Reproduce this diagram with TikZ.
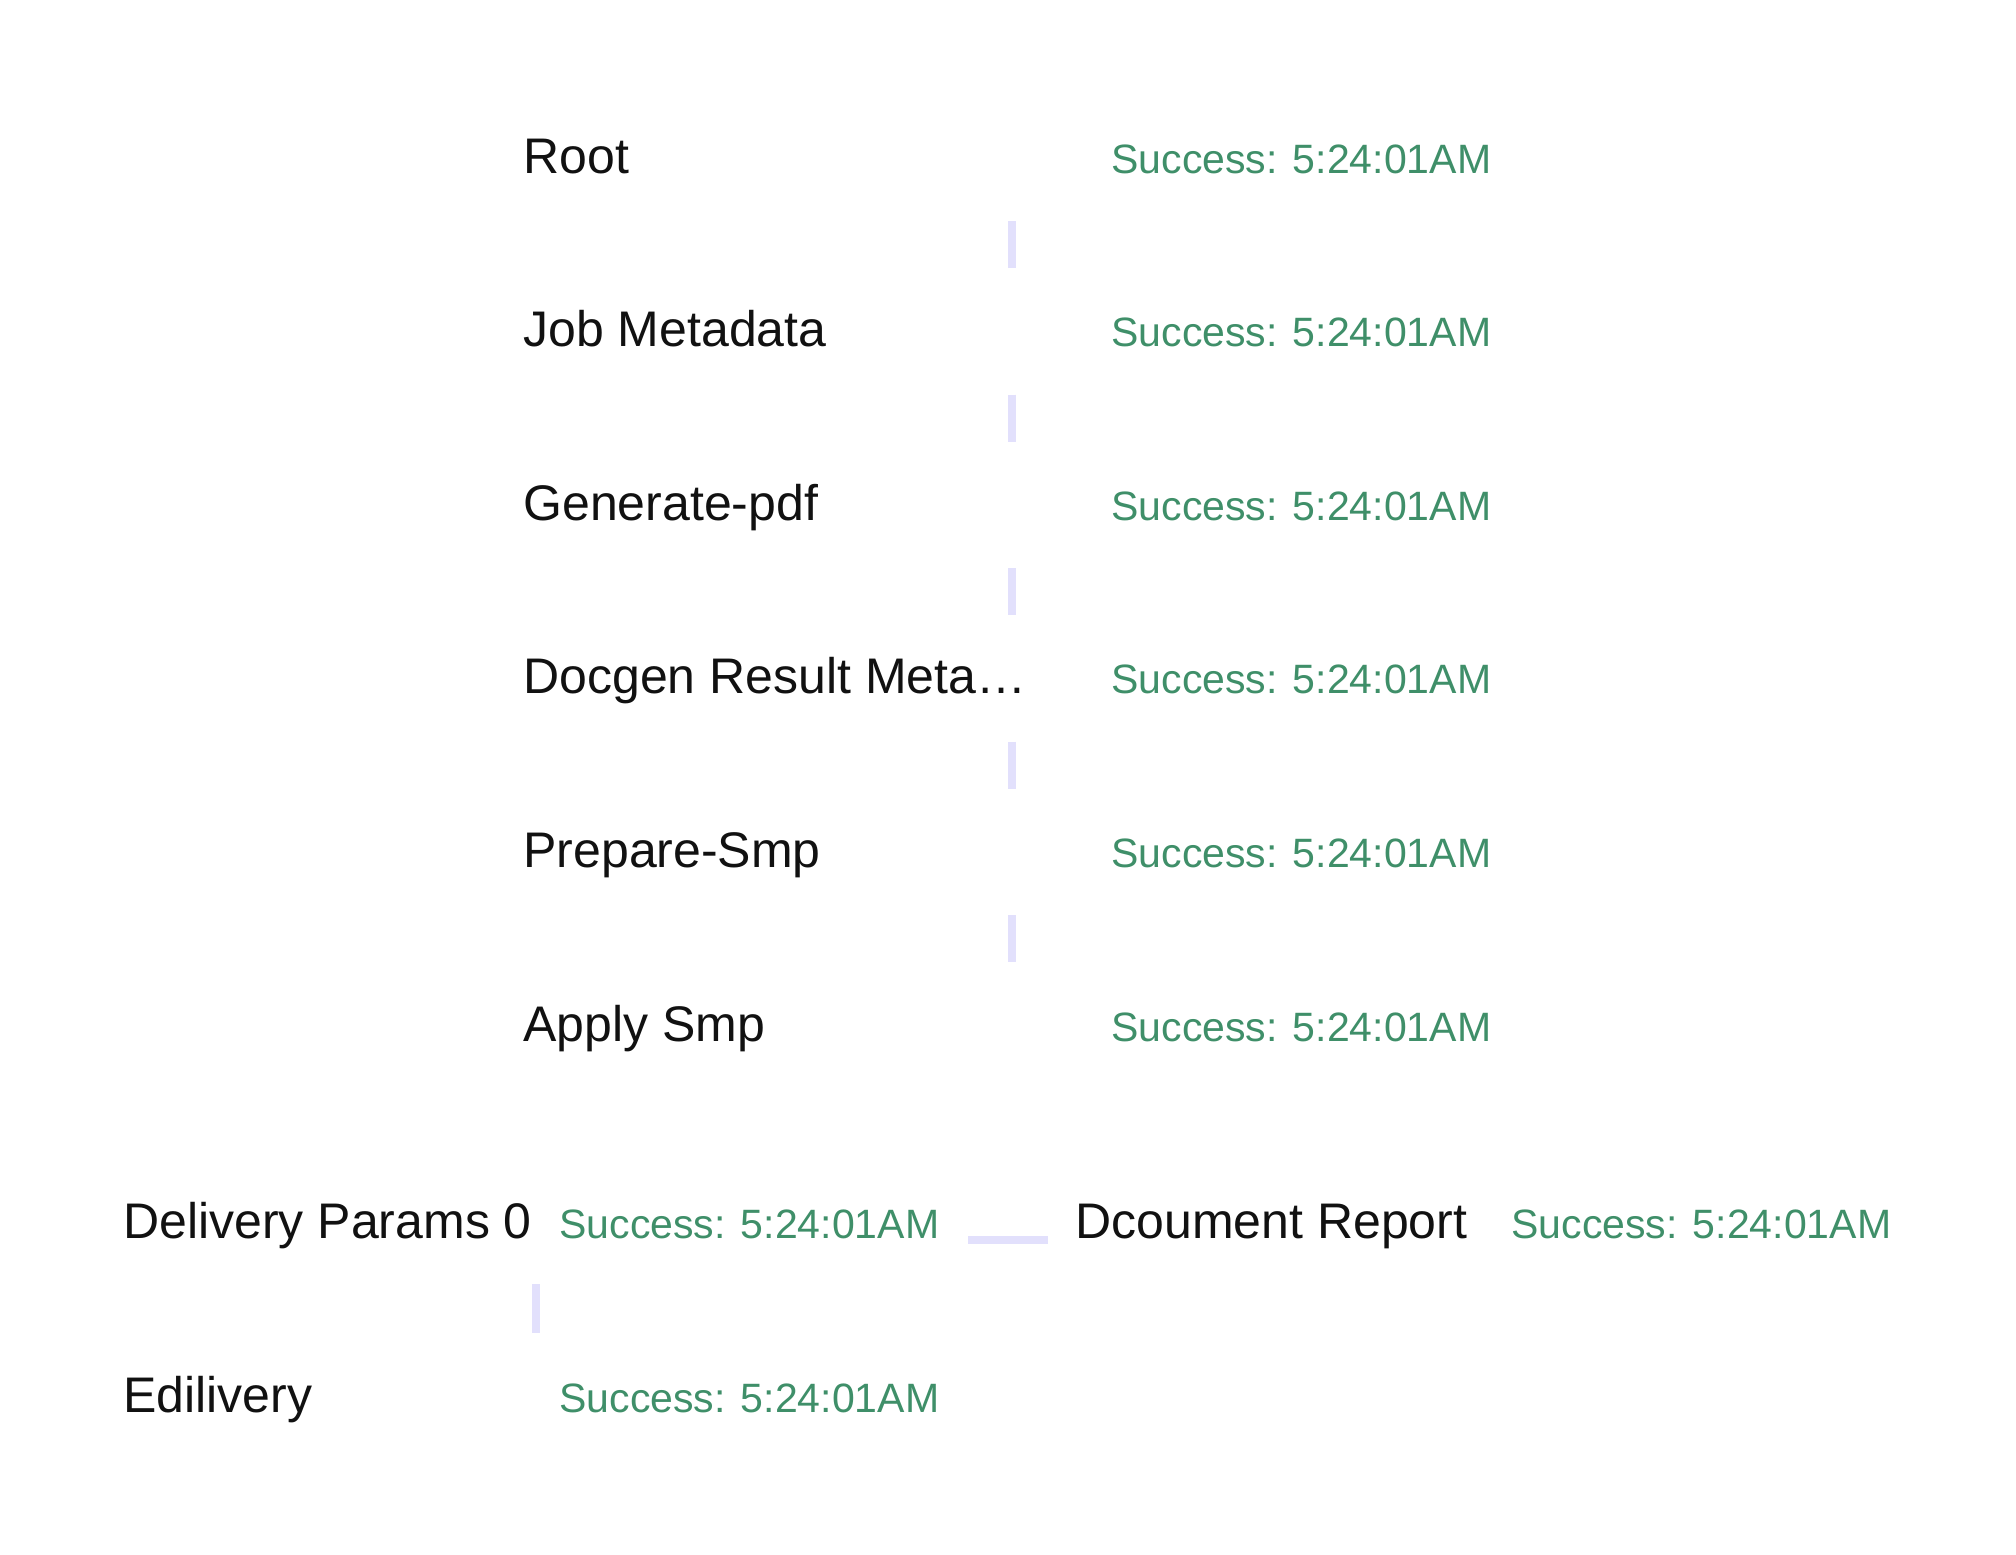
\documentclass[tikz,border=0pt]{standalone}
\usepackage{fontspec}
\setmainfont{Liberation Sans}
\definecolor{okgreen}{HTML}{3F8F69}
\definecolor{barcol}{HTML}{E2E0FC}
\definecolor{ink}{HTML}{111111}
\begin{document}
\begin{tikzpicture}[x=0.5pt,y=-0.5pt,
  task/.style={anchor=base west,inner sep=0pt,text=ink,font=\fontsize{25}{30}\selectfont},
  stat/.style={anchor=base west,inner sep=0pt,text=okgreen,font=\fontsize{20.5}{25}\selectfont},
  conn/.style={draw=barcol,line width=4pt,line cap=butt}]
\fill[white] (0,0) rectangle (2016,1554);
\useasboundingbox (0,0) rectangle (2016,1554);
% main column
\node[task] (root) at (523,173) {Root};
\node[task] (job) at (523,346.6) {Job Metadata};
\node[task] (gen) at (523,520.2) {Generate-pdf};
\node[task] (doc) at (523,693.8) {Docgen Result Meta\ldots};
\node[task] (prep) at (523,867.4) {Prepare-Smp};
\node[task] (apply) at (523,1041) {Apply Smp};
\node[stat] (root-s) at (1111,173) {Success: 5:24:01AM};
\node[stat] (job-s) at (1111,346.6) {Success: 5:24:01AM};
\node[stat] (gen-s) at (1111,520.2) {Success: 5:24:01AM};
\node[stat] (doc-s) at (1111,693.8) {Success: 5:24:01AM};
\node[stat] (prep-s) at (1111,867.4) {Success: 5:24:01AM};
\node[stat] (apply-s) at (1111,1041) {Success: 5:24:01AM};
% connectors in main column
\coordinate (root-out) at (1012,221);   \coordinate (job-in) at (1012,268);
\coordinate (job-out) at (1012,394.6);  \coordinate (gen-in) at (1012,441.6);
\coordinate (gen-out) at (1012,568.2);  \coordinate (doc-in) at (1012,615.2);
\coordinate (doc-out) at (1012,741.8);  \coordinate (prep-in) at (1012,788.8);
\coordinate (prep-out) at (1012,915.4); \coordinate (apply-in) at (1012,962.4);
\draw[conn] (root-out) -- (job-in);
\draw[conn] (job-out) -- (gen-in);
\draw[conn] (gen-out) -- (doc-in);
\draw[conn] (doc-out) -- (prep-in);
\draw[conn] (prep-out) -- (apply-in);
% bottom rows
\node[task] (dp) at (123,1238) {Delivery Params 0};
\node[stat] (dp-s) at (559,1238) {Success: 5:24:01AM};
\node[task] (dr) at (1075,1238) {Dcoument Report};
\node[stat] (dr-s) at (1511,1238) {Success: 5:24:01AM};
\node[task] (ed) at (123,1412) {Edilivery};
\node[stat] (ed-s) at (559,1412) {Success: 5:24:01AM};
\coordinate (dp-right) at (968,1240);
\coordinate (dr-left) at (1048,1240);
\draw[conn] (dp-right) -- (dr-left);
\coordinate (dp-out) at (536,1284);
\coordinate (ed-in) at (536,1333);
\draw[conn] (dp-out) -- (ed-in);
\end{tikzpicture}
\end{document}
